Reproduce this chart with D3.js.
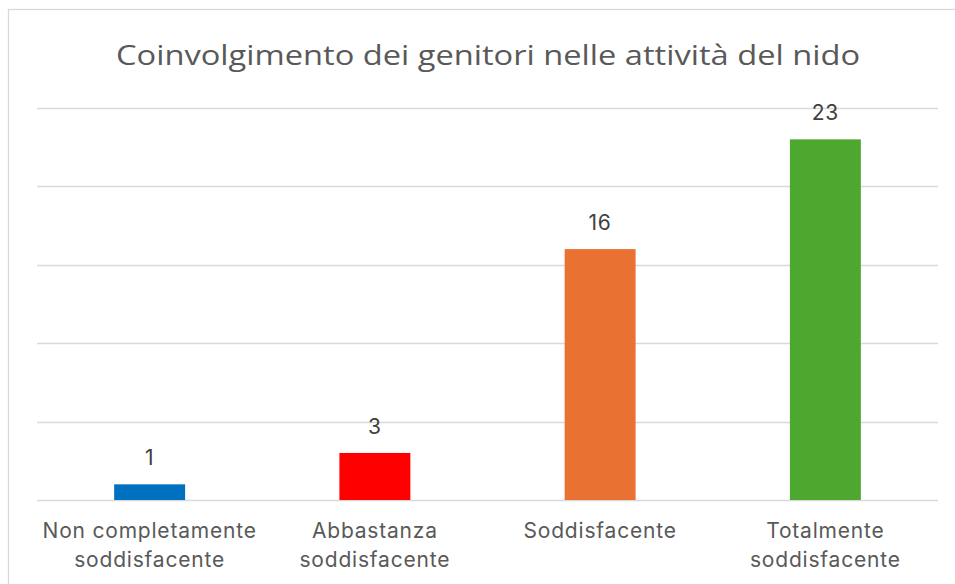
<!DOCTYPE html>
<html>
<head>
<meta charset="utf-8">
<script src="https://cdn.jsdelivr.net/npm/d3@7"></script>
<style>
  body { margin: 0; background: #fff; }
  svg { display: block; }
</style>
</head>
<body>
<svg id="chart"></svg>
<script>
// data
const chartTitle = "Coinvolgimento dei genitori nelle attività del nido";
const categories = [
    ["Non completamente", "soddisfacente"],
    ["Abbastanza", "soddisfacente"],
    ["Soddisfacente"],
    ["Totalmente", "soddisfacente"]
];
const values = [1, 3, 16, 23];
const barColors = ["#0070c0", "#ff0000", "#e97132", "#4ea72e"];
const yTicks = [0, 5, 10, 15, 20, 25];

const W = 955, H = 584;
const margin = {top: 108, right: 16, bottom: 84, left: 37};
const labelFont = "Inter, Roboto, 'Noto Sans', sans-serif";

const svg = d3.select("#chart").attr("width", W).attr("height", H);

// chart border (right/bottom run off the picture)
svg.append("rect")
    .attr("x", 8.5).attr("y", 9.5)
    .attr("width", 960).attr("height", 600)
    .attr("fill", "none")
    .attr("stroke", "#d9d9d9")
    .attr("stroke-width", 1.3);

svg.append("text")
    .attr("x", 488).attr("y", 65)
    .attr("text-anchor", "middle")
    .attr("font-family", "'Open Sans', sans-serif")
    .attr("font-size", 27.5)
    .attr("fill", "#595959")
    .attr("textLength", 744)
    .attr("lengthAdjust", "spacingAndGlyphs")
    .text(chartTitle);

const x = d3.scaleBand()
    .domain(d3.range(categories.length))
    .range([margin.left, W - margin.right - 1])
    .paddingInner(0.685)
    .paddingOuter(0.3425);

const y = d3.scaleLinear()
    .domain([0, 25])
    .range([H - margin.bottom, margin.top]);

// gridlines
svg.append("g")
    .selectAll("line")
    .data(yTicks)
    .join("line")
    .attr("x1", margin.left).attr("x2", W - margin.right - 1)
    .attr("y1", d => Math.round(y(d)) + 0.5)
    .attr("y2", d => Math.round(y(d)) + 0.5)
    .attr("stroke", "#d9d9d9")
    .attr("stroke-width", 1.3);

// bars
svg.append("g")
    .selectAll("rect")
    .data(values)
    .join("rect")
    .attr("x", (d, i) => x(i))
    .attr("y", d => y(d))
    .attr("width", x.bandwidth())
    .attr("height", d => y(0) - y(d))
    .attr("fill", (d, i) => barColors[i]);

// data labels
svg.append("g")
    .selectAll("text")
    .data(values)
    .join("text")
    .attr("x", (d, i) => x(i) + x.bandwidth() / 2)
    .attr("y", d => y(d) - 19)
    .attr("text-anchor", "middle")
    .attr("font-family", labelFont)
    .attr("font-size", 21)
    .attr("letter-spacing", 0.8)
    .attr("fill", "#404040")
    .text(d => d);

// category labels
const lab = svg.append("g")
    .selectAll("text")
    .data(categories)
    .join("text")
    .attr("text-anchor", "middle")
    .attr("font-family", labelFont)
    .attr("font-size", 21)
    .attr("letter-spacing", 0.8)
    .attr("fill", "#595959");

lab.selectAll("tspan")
    .data((d, i) => d.map(t => ({t, i})))
    .join("tspan")
    .attr("x", d => x(d.i) + x.bandwidth() / 2)
    .attr("y", (d, j) => 538 + j * 29)
    .text(d => d.t);
</script>
</body>
</html>
